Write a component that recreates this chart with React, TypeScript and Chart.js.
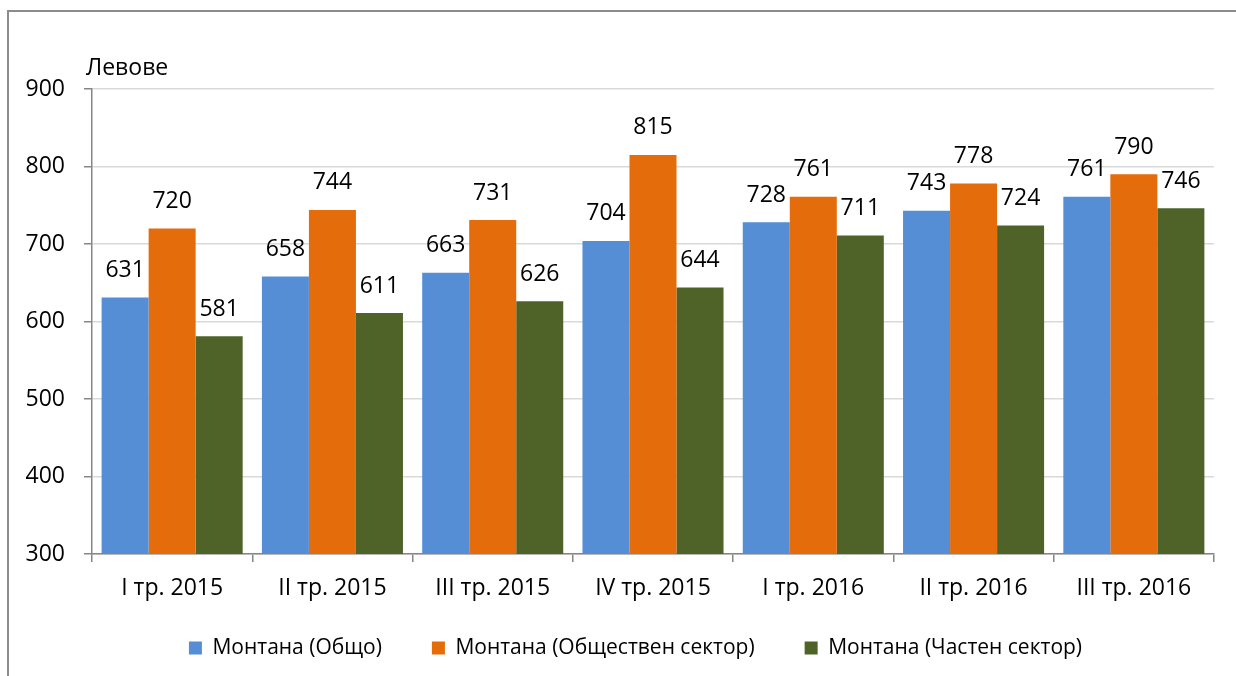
import { useEffect, useRef } from 'react';
import { Chart, registerables } from 'chart.js';

Chart.register(...registerables);

const categories = ['I тр. 2015', 'II тр. 2015', 'III тр. 2015', 'IV тр. 2015', 'I тр. 2016', 'II тр. 2016', 'III тр. 2016'];
const totalValues = [631, 658, 663, 704, 728, 743, 761];
const publicValues = [720, 744, 731, 815, 761, 778, 790];
const privateValues = [581, 611, 626, 644, 711, 724, 746];
const seriesNames = ['Монтана (Общо)', 'Монтана (Обществен сектор)', 'Монтана (Частен сектор)'];
const yMin = 300;
const yMax = 900;
const yStep = 100;
const unitLabel = 'Левове';

const FONT_FAMILY = '"Open Sans", "Noto Sans", sans-serif';
const FONT_SIZE = 23;
const LEGEND_FONT_SIZE = 21;
const FONT = { family: FONT_FAMILY, size: FONT_SIZE };
const AXIS_GRAY = '#868686';

const valueLabelsPlugin = {
  id: 'valueLabels',
  afterDatasetsDraw(chart: any) {
    const ctx = chart.ctx;
    ctx.save();
    ctx.font = `${FONT_SIZE}px ${FONT_FAMILY}`;
    ctx.fillStyle = '#000';
    ctx.textAlign = 'center';
    ctx.textBaseline = 'middle';
    chart.data.datasets.forEach((ds: any, i: number) => {
      const meta = chart.getDatasetMeta(i);
      meta.data.forEach((bar: any, j: number) => {
        ctx.fillText(String(ds.data[j]), bar.x, bar.y - 27);
      });
    });
    ctx.restore();
  },
};

const unitLabelPlugin = {
  id: 'unitLabel',
  afterDraw(chart: any) {
    const ctx = chart.ctx;
    const area = chart.chartArea;
    ctx.save();
    ctx.font = `${FONT_SIZE}px ${FONT_FAMILY}`;
    ctx.fillStyle = '#000';
    ctx.textAlign = 'left';
    ctx.textBaseline = 'alphabetic';
    ctx.fillText(unitLabel, area.left - 6, area.top - 14);
    ctx.restore();
  },
};

// Moves the bottom legend up right under the axis labels and centres it like the reference
const legendPlacePlugin = {
  id: 'legendPlace',
  afterLayout(chart: any) {
    const lg = chart.legend;
    if (!lg) return;
    const shift = 635.5 - (lg.left + lg.right) / 2;
    lg.left += shift;
    lg.right += shift;
    const pad = lg.options.labels.padding;
    const itemH = Math.max(lg.options.labels.boxHeight || 0, LEGEND_FONT_SIZE);
    const h = lg.bottom - lg.top;
    lg.top = 648 - pad - itemH / 2;
    lg.bottom = lg.top + h;
  },
};

export default function App() {
  const canvasRef = useRef<HTMLCanvasElement | null>(null);

  useEffect(() => {
    if (!canvasRef.current) return;
    const chart = new Chart(canvasRef.current, {
      type: 'bar',
      data: {
        labels: categories,
        datasets: [
          { label: seriesNames[0], data: totalValues, backgroundColor: '#558ED5', borderWidth: 0 },
          { label: seriesNames[1], data: publicValues, backgroundColor: '#E46C0A', borderWidth: 0 },
          { label: seriesNames[2], data: privateValues, backgroundColor: '#4F6228', borderWidth: 0 },
        ],
      },
      options: {
        responsive: false,
        animation: false,
        devicePixelRatio: 1,
        datasets: { bar: { categoryPercentage: 0.88, barPercentage: 1.0 } },
        layout: { padding: { left: 12, right: 22, top: 89, bottom: -19 } },
        plugins: {
          legend: {
            position: 'bottom',
            labels: {
              boxWidth: 13,
              boxHeight: 13,
              padding: 50,
              font: { family: FONT_FAMILY, size: LEGEND_FONT_SIZE },
              color: '#000',
            },
          },
          tooltip: { enabled: false },
          title: { display: false },
        },
        scales: {
          x: {
            grid: {
              drawOnChartArea: false,
              drawTicks: true,
              tickLength: 8,
              tickColor: AXIS_GRAY,
              lineWidth: 1.5,
              offset: true,
            },
            border: { color: AXIS_GRAY, width: 1.5 },
            ticks: { font: FONT, color: '#000', padding: 13, maxRotation: 0, autoSkip: false },
            afterFit: (s: any) => {
              s.height = 60;
            },
          },
          y: {
            min: yMin,
            max: yMax,
            ticks: { stepSize: yStep, font: FONT, color: '#000', padding: 19 },
            grid: { color: '#d9d9d9', lineWidth: 1.5, tickColor: AXIS_GRAY, tickLength: 8 },
            border: { color: AXIS_GRAY, width: 1.5 },
            afterFit: (s: any) => {
              s.width = 80;
            },
          },
        },
      },
      plugins: [valueLabelsPlugin, unitLabelPlugin, legendPlacePlugin],
    } as any);
    return () => chart.destroy();
  }, []);

  return (
    <div style={{ position: 'absolute', left: 0, top: 0, width: 1236, height: 676, overflow: 'hidden', background: '#fff' }}>
      <div
        style={{
          position: 'absolute',
          left: 7,
          top: 10,
          width: 1400,
          height: 800,
          border: '2px solid #8c8c8c',
          boxSizing: 'border-box',
        }}
      />
      <canvas ref={canvasRef} width={1236} height={676} style={{ position: 'absolute', left: 0, top: 0, width: 1236, height: 676 }} />
    </div>
  );
}
